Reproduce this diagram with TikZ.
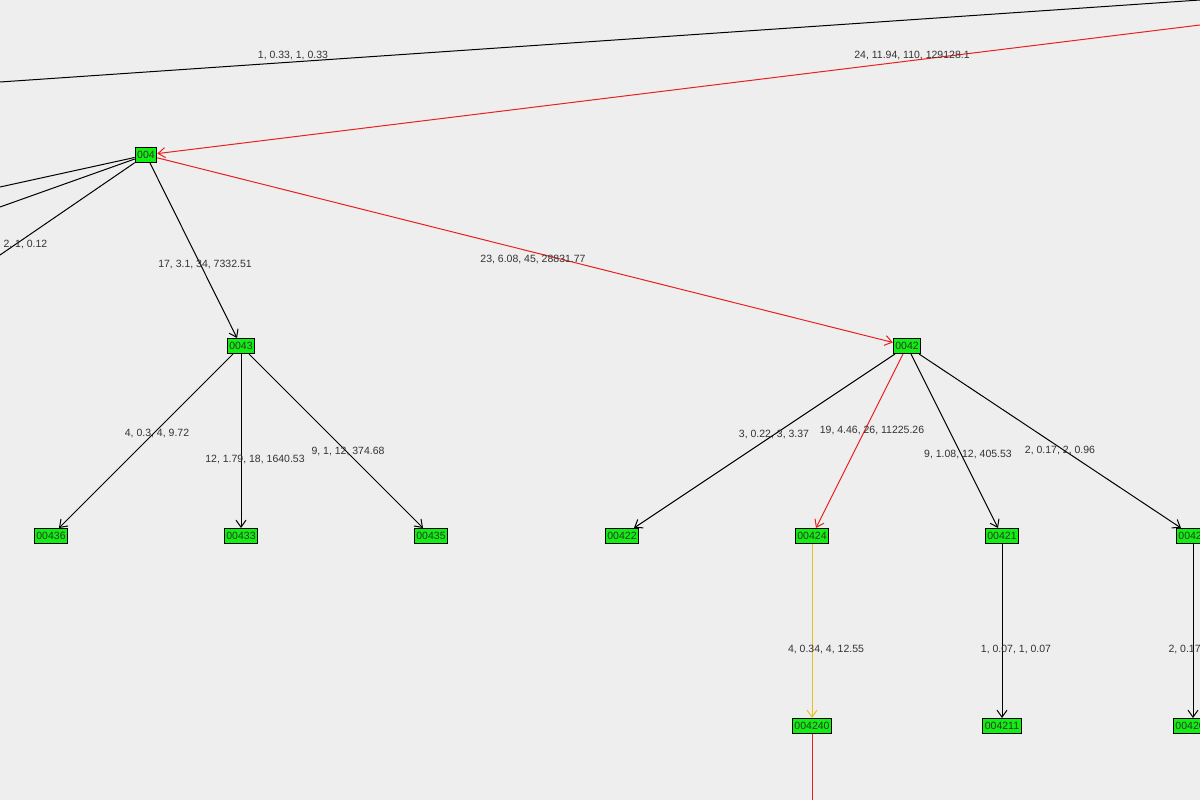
\documentclass[tikz,border=0pt]{standalone}
\usepackage{fontspec}
\setmainfont{Liberation Sans}
\usetikzlibrary{arrows.meta}
\definecolor{bgc}{HTML}{EEEEEE}
\definecolor{nodegreen}{HTML}{11EE11}
\definecolor{edgered}{HTML}{E82020}
\definecolor{edgeyellow}{HTML}{E8C020}
\tikzset{
  vertex/.style={draw=black, fill=nodegreen, inner sep=2pt, minimum height=15pt, font=\fontsize{10.5}{12}\selectfont, text=black!80},
  lab/.style={font=\fontsize{10.5}{12}\selectfont, text=black!80, inner sep=0pt},
  edge/.style={draw=black, -{Straight Barb[length=7pt,width=10pt]}},
}
\begin{document}
\begin{tikzpicture}[x=1pt, y=-1pt, line width=1pt]
  \fill[bgc] (0,0) rectangle (1200,800);
  \useasboundingbox (0,0) rectangle (1200,800);
  \clip (0,0) rectangle (1200,800);
  % nodes
  \node[vertex] (n004) at (146,155) {004};
  \node[vertex] (n0043) at (241,346) {0043};
  \node[vertex] (n0042) at (907,346) {0042};
  \node[vertex] (n00436) at (51,536) {00436};
  \node[vertex] (n00433) at (241,536) {00433};
  \node[vertex] (n00435) at (431,536) {00435};
  \node[vertex] (n00422) at (622,536) {00422};
  \node[vertex] (n00424) at (812,536) {00424};
  \node[vertex] (n00421) at (1002,536) {00421};
  \node[vertex] (n00420) at (1193,536) {00420};
  \node[vertex] (n004240) at (812,726) {004240};
  \node[vertex] (n004211) at (1002,726) {004211};
  \node[vertex] (n004200) at (1193,726) {004200};
  % off-screen ends
  \coordinate (topL) at (0,82);
  \coordinate (topR) at (1200,0);
  \coordinate (redR) at (1200,25);
  \coordinate (offA) at (0,187);
  \coordinate (offB) at (0,207);
  \coordinate (offC) at (0,255);
  \coordinate (offD) at (812,800);
  % edges
  \draw (topL) -- (topR);
  \draw[edge, edgered] (redR) -- (n004);
  \draw (n004) -- (offA);
  \draw (n004) -- (offB);
  \draw (n004) -- (offC);
  \draw[edge] (n004) -- (n0043);
  \draw[edge, edgered] (n004) -- (n0042);
  \draw[edge] (n0043) -- (n00436);
  \draw[edge] (n0043) -- (n00433);
  \draw[edge] (n0043) -- (n00435);
  \draw[edge] (n0042) -- (n00422);
  \draw[edge, edgered] (n0042) -- (n00424);
  \draw[edge] (n0042) -- (n00421);
  \draw[edge] (n0042) -- (n00420);
  \draw[edge, edgeyellow] (n00424) -- (n004240);
  \draw[edge] (n00421) -- (n004211);
  \draw[edge] (n00420) -- (n004200);
  \draw[edgered] (n004240) -- (offD);
  % labels
  \node[lab] at (293,56) {1, 0.33, 1, 0.33};
  \node[lab] at (912,56) {24, 11.94, 110, 129128.1};
  \node[lab, anchor=west] at (3,245) {2, 1, 0.12};
  \node[lab] at (205,265) {17, 3.1, 34, 7332.51};
  \node[lab] at (533,260) {23, 6.08, 45, 28831.77};
  \node[lab] at (157,434) {4, 0.3, 4, 9.72};
  \node[lab] at (255,460) {12, 1.79, 18, 1640.53};
  \node[lab] at (348,452) {9, 1, 12, 374.68};
  \node[lab] at (774,435) {3, 0.22, 3, 3.37};
  \node[lab] at (872,431) {19, 4.46, 26, 11225.26};
  \node[lab] at (968,455) {9, 1.08, 12, 405.53};
  \node[lab] at (1060,451) {2, 0.17, 2, 0.96};
  \node[lab] at (826,649) {4, 0.34, 4, 12.55};
  \node[lab] at (1016,649) {1, 0.07, 1, 0.07};
  \node[lab, anchor=west] at (1168,649) {2, 0.17, 2, 0.17};
\end{tikzpicture}
\end{document}
